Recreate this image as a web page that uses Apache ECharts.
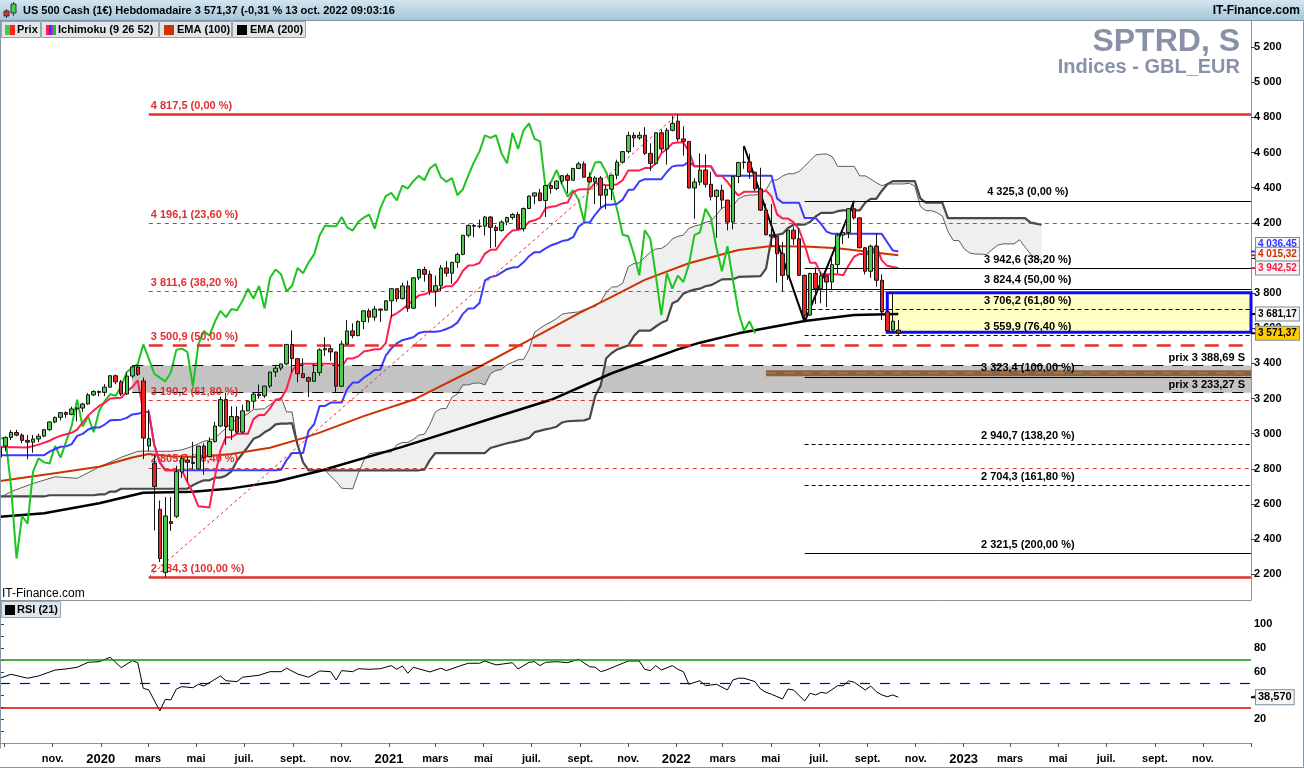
<!DOCTYPE html>
<html><head><meta charset="utf-8">
<script src="https://cdn.jsdelivr.net/npm/echarts@6/dist/echarts.min.js"></script>
<style>html,body{margin:0;padding:0;background:#fff;}#c{width:1304px;height:768px;}</style>
</head><body><div id="c"></div>
<script>
// ---------- DATA ----------
const startDate = '2019-08-26';   // Monday of first weekly candle
const weekCount = 228;            // weekly slots on the axis (incl. future)

const opens = [2866,2930,2979,3007,2992,2962,2952,2970,2986,3023,
3067,3093,3120,3110,3141,3146,3169,3221,3240,3235,
3265,3330,3295,3226,3328,3380,3300,2930,2833,2570,
2210,2500,2530,2782,2850,2837,2800,2930,2870,2955,
3044,3194,3020,3098,3009,3130,3185,3225,3216,3271,
3351,3373,3397,3508,3427,3341,3319,3298,3348,3477,
3484,3465,3270,3510,3585,3558,3638,3699,3663,3709,
3703,3756,3825,3768,3841,3714,3887,3934,3907,3811,
3842,3943,3913,3975,4020,4129,4185,4180,4181,4233,
4174,4156,4204,4230,4247,4166,4281,4352,4370,4327,
4412,4395,4437,4468,4442,4509,4535,4459,4433,4455,
4357,4391,4471,4545,4605,4697,4683,4698,4595,4538,
4712,4620,4726,4778,4677,4663,4398,4432,4500,4419,
4349,4385,4329,4204,4463,4543,4546,4488,4393,4272,
4132,4123,4024,3901,4158,4109,3901,3675,3912,3825,
3899,3863,3962,4130,4145,4280,4228,4058,3924,4067,
3873,3693,3590,3590];
const highs = [2940,2985,3021,3022,3002,2993,2993,3000,3027,3070,
3097,3123,3127,3154,3150,3176,3231,3248,3246,3282,
3332,3337,3306,3347,3385,3393,3320,3137,2880,2620,
2640,2641,2818,2879,2870,2954,2930,2945,2980,3068,
3211,3233,3156,3155,3165,3190,3238,3280,3272,3352,
3387,3399,3509,3588,3430,3429,3325,3397,3486,3550,
3501,3466,3529,3646,3628,3645,3701,3712,3726,3712,
3760,3827,3826,3859,3871,3889,3937,3950,3928,3900,
3960,3983,3978,4030,4130,4191,4194,4218,4238,4237,
4187,4214,4234,4255,4262,4287,4356,4372,4393,4415,
4430,4441,4469,4480,4513,4546,4549,4486,4465,4466,
4412,4475,4559,4608,4718,4714,4718,4744,4652,4713,
4731,4740,4808,4817.5,4749,4663,4453,4595,4590,4490,
4390,4416,4330,4465,4546,4637,4593,4490,4513,4308,
4307,4125,4090,4160,4177,4168,3905,3915,3946,3918,
3902,4012,4140,4167,4283,4325.3,4230,4062,4076,4140,
3906,3736,3807,3647];
const lows = [2853,2900,2964,2985,2946,2855,2892,2952,2980,3015,
3060,3076,3091,3105,3070,3124,3165,3215,3212,3214,
3263,3281,3214,3220,3315,3328,2855,2900,2450,2270,
2184.3,2447,2520,2749,2727,2797,2797,2766,2865,2950,
3038,2936,2965,3000,3001,3128,3142,3200,3204,3260,
3323,3359,3390,3349,3293,3317,3209,3297,3330,3441,
3413,3234,3265,3505,3543,3555,3595,3633,3643,3636,
3700,3663,3750,3765,3694,3710,3874,3865,3789,3723,
3812,3894,3853,3944,4015,4117,4118,4169,4128,4056,
4062,4150,4187,4218,4165,4151,4278,4306,4322,4233,
4365,4385,4421,4368,4440,4505,4457,4427,4306,4288,
4278,4329,4447,4537,4595,4630,4672,4585,4495,4532,
4600,4531,4720,4662,4582,4395,4223,4413,4401,4327,
4115,4279,4157,4162,4425,4507,4450,4381,4267,4128,
4062,3859,3810,3875,4074,3898,3636,3670,3738,3742,
3721,3818,3913,4079,4112,4218,4055,3906,3886,3837,
3647,3584,3572,3559.9];
const closes = [2926,2979,3007,2992,2962,2952,2970,2986,3023,3067,
3093,3120,3110,3141,3146,3169,3221,3240,3235,3265,
3330,3295,3226,3328,3380,3338,2975,2972,2700,2290,
2532,2489,2784,2860,2837,2831,2930,2864,2955,3044,
3194,3041,3098,3009,3130,3185,3225,3216,3271,3351,
3373,3397,3508,3427,3341,3319,3298,3348,3477,3484,
3465,3270,3510,3585,3558,3638,3699,3663,3709,3703,
3756,3825,3768,3841,3714,3887,3934,3907,3811,3842,
3943,3913,3975,4020,4129,4185,4180,4181,4233,4174,
4156,4204,4230,4247,4166,4281,4352,4370,4327,4412,
4395,4437,4468,4442,4509,4535,4459,4433,4455,4357,
4391,4471,4545,4605,4697,4683,4698,4595,4538,4712,
4620,4726,4766,4677,4663,4398,4432,4500,4419,4349,
4385,4329,4204,4463,4543,4546,4488,4393,4272,4132,
4123,4024,3901,4158,4109,3901,3675,3912,3825,3899,
3863,3962,4130,4145,4280,4228,4058,3924,4067,3873,
3693,3586,3640,3571.37];

// Ichimoku (9 26 52) lines: [weekIndex, value]
const tenkan = [[0,2925],[5,2922],[7,2938],[9,2960],[10,2976],[11,2988],[13,3005],[14,3023],[15,3064],[16,3103],[17,3132],[18,3158],[19,3176],[20,3200],[22,3204],[23,3241],[24,3265],[25,3303],[26,3124],[27,3124],[28,2936],[29,2837],[30,2792],[33,2792],[34,2725],[35,2664],[36,2587],[38,2580],[39,2757],[40,2905],[41,2980],[42,2980],[43,3000],[45,3000],[46,3083],[47,3107],[48,3107],[49,3144],[50,3193],[51,3199],[52,3255],[53,3358],[54,3394],[55,3398],[61,3398],[62,3380],[63,3428],[64,3428],[65,3440],[66,3468],[67,3473],[68,3480],[69,3480],[70,3515],[71,3669],[72,3685],[73,3708],[74,3733],[75,3761],[76,3787],[77,3793],[78,3807],[79,3807],[80,3827],[81,3839],[82,3839],[83,3872],[84,3927],[85,3957],[86,3959],[87,3971],[88,4025],[89,4046],[90,4046],[91,4091],[92,4129],[93,4156],[94,4159],[95,4172],[96,4206],[97,4214],[98,4228],[99,4283],[100,4291],[101,4296],[102,4310],[103,4316],[104,4373],[105,4390],[106,4391],[107,4391],[108,4428],[109,4419],[110,4414],[111,4414],[112,4419],[113,4443],[114,4498],[116,4498],[117,4511],[118,4511],[119,4537],[120,4596],[121,4620],[122,4652],[123,4657],[124,4657],[125,4607],[126,4521],[129,4521],[130,4467],[131,4467],[132,4432],[133,4389],[134,4355],[135,4376],[138,4376],[139,4383],[140,4350],[141,4248],[142,4224],[143,4224],[144,4202],[145,4162],[146,4075],[147,3972],[148,3972],[149,3907],[152,3907],[153,3902],[154,3958],[155,4008],[156,4023],[158,4023],[159,4072],[160,3986],[161,3955],[162,3949],[163,3942.52]];
const kijun = [[0,2878],[8,2878],[9,2898],[10,2913],[11,2926],[12,2928],[13,2941],[14,2988],[15,2999],[16,3024],[17,3035],[18,3035],[19,3052],[20,3076],[22,3080],[23,3090],[24,3110],[25,3113],[26,3124],[27,3124],[28,2936],[29,2837],[30,2792],[50,2792],[51,2795],[52,2850],[53,2890],[55,2890],[56,3018],[57,3054],[58,3158],[59,3158],[60,3177],[62,3177],[63,3255],[64,3291],[65,3291],[66,3319],[67,3339],[68,3363],[69,3364],[70,3444],[71,3485],[72,3514],[73,3532],[74,3540],[75,3549],[76,3573],[77,3580],[79,3580],[80,3585],[81,3596],[82,3609],[83,3632],[84,3682],[85,3713],[86,3714],[87,3744],[88,3872],[89,3891],[90,3898],[91,3917],[92,3936],[93,3946],[94,3949],[95,3975],[96,4010],[97,4033],[98,4033],[99,4055],[100,4072],[101,4082],[102,4096],[103,4102],[104,4118],[105,4179],[106,4201],[107,4201],[108,4247],[109,4285],[110,4303],[111,4303],[112,4308],[113,4332],[114,4387],[115,4390],[116,4435],[117,4448],[120,4448],[121,4489],[122,4521],[123,4526],[124,4526],[125,4548],[126,4521],[129,4521],[130,4467],[140,4467],[141,4339],[142,4314],[145,4314],[146,4227],[148,4227],[149,4193],[150,4150],[151,4137],[160,4137],[161,4089],[162,4043],[163,4036.45]];
const spanA = [[0,2636],[2,2671],[6,2717],[10,2755],[14,2746],[18,2811],[22,2866],[25,2900],[26,2901],[31,2900],[33,2908],[35,2929],[36,2944],[37,2957],[39,2973],[40,3005],[41,3031],[42,3063],[43,3083],[44,3096],[45,3114],[46,3138],[48,3142],[49,3165],[50,3187],[51,3208],[52,3124],[53,3124],[54,2936],[55,2837],[56,2792],[59,2792],[60,2758],[61,2728],[62,2690],[64,2686],[65,2774],[66,2848],[67,2886],[69,2896],[71,2896],[72,2937],[73,2950],[74,2950],[75,2968],[76,2992],[77,2997],[78,3052],[79,3124],[80,3142],[81,3144],[82,3208],[83,3226],[84,3278],[85,3278],[86,3288],[87,3288],[88,3278],[89,3341],[90,3360],[91,3365],[92,3393],[93,3406],[94,3421],[95,3422],[96,3480],[97,3577],[98,3600],[99,3620],[100,3636],[101,3655],[102,3680],[103,3686],[105,3693],[106,3706],[107,3717],[108,3724],[109,3752],[110,3804],[111,3835],[112,3836],[113,3857],[114,3950],[115,3968],[116,3972],[117,4004],[118,4032],[119,4051],[120,4054],[121,4073],[122,4108],[123,4123],[124,4130],[125,4169],[126,4181],[127,4189],[128,4203],[129,4209],[130,4245],[131,4284],[132,4296],[133,4296],[134,4337],[135,4352],[136,4358],[137,4358],[138,4363],[139,4387],[140,4442],[141,4444],[142,4466],[143,4479],[144,4479],[145,4492],[146,4522],[147,4554],[148,4586],[149,4591],[150,4591],[151,4577],[152,4521],[155,4521],[156,4467],[157,4467],[158,4449],[159,4428],[160,4411],[161,4421],[164,4421],[165,4425],[166,4408],[167,4293],[168,4269],[169,4269],[170,4258],[171,4238],[172,4151],[173,4099],[174,4099],[175,4050],[176,4028],[177,4022],[178,4022],[179,4019],[180,4047],[181,4072],[182,4080],[184,4080],[185,4104],[186,4061],[187,4022],[188,3996],[189,3990]];
const spanB = [[0,2643],[8,2643],[9,2650],[17,2650],[18,2655],[19,2655],[20,2671],[21,2671],[22,2687],[34,2687],[35,2707],[36,2722],[37,2735],[38,2735],[39,2750],[40,2750],[41,2761],[42,2786],[43,2846],[44,2886],[45,2926],[46,2971],[47,2984],[48,3008],[49,3025],[50,3053],[51,3057],[52,3057],[53,3060],[54,2936],[55,2837],[56,2792],[76,2792],[77,2795],[78,2850],[79,2890],[88,2890],[89,2919],[92,2946],[93,2952],[94,2959],[96,2976],[97,3009],[99,3025],[100,3031],[101,3040],[102,3064],[103,3071],[106,3076],[107,3087],[108,3215],[109,3275],[110,3429],[111,3459],[112,3480],[114,3502],[115,3554],[116,3587],[118,3587],[119,3610],[120,3631],[121,3644],[122,3742],[123,3757],[124,3797],[125,3810],[126,3820],[127,3825],[128,3839],[129,3845],[130,3861],[131,3878],[133,3879],[134,3892],[138,3897],[139,3939],[140,4115],[141,4131],[142,4138],[143,4170],[144,4189],[146,4190],[147,4204],[148,4236],[149,4256],[151,4256],[152,4266],[153,4271],[156,4271],[157,4315],[158,4336],[159,4336],[160,4381],[161,4419],[162,4437],[166,4437],[167,4339],[168,4314],[171,4314],[172,4227],[186,4227],[187,4201],[188,4195],[189,4189]];
const chikouShift = 26;

const ema100 = [[0,2731],[9,2771],[18,2812],[24,2865],[27,2885],[31,2872],[36,2868],[42,2885],[49,2920],[55,2975],[58,3006],[66,3100],[75,3193],[87,3381],[96,3533],[105,3685],[111,3779],[117,3875],[125,3970],[134,4045],[140,4068],[147,4064],[152,4055],[163,4015.32]];
const ema200 = [[0,2528],[8,2547],[18,2604],[26,2664],[35,2670],[42,2689],[50,2727],[58,2788],[73,2925],[82,3015],[91,3105],[100,3193],[111,3344],[123,3480],[127,3518],[134,3571],[146,3641],[155,3675],[163,3681.17]];

const rsi = [[0,54.6],[2,57.9],[5,54.6],[7,56.5],[10,61.5],[12,62.4],[14,63.8],[16,68],[18,68.5],[20,72.3],[22,63.5],[24,69.4],[25,67.7],[26,46.1],[27,44.7],[29,27],[30,36.8],[31,36.3],[32,45.5],[33,47.5],[35,46.6],[36,49.5],[37,48],[40,56.5],[41,52.5],[43,51.7],[44,55.4],[47,57.1],[49,60.1],[51,60.1],[52,63],[54,58.2],[56,55.4],[58,60.7],[60,60.1],[61,53.1],[62,61],[64,60.1],[65,62.6],[67,62.1],[69,62.6],[71,65.2],[72,62.1],[73,64.9],[74,58.8],[75,63.8],[78,59.9],[80,63],[81,61],[84,65.8],[85,67.2],[87,67.2],[88,69.1],[90,65.8],[93,67.7],[94,62.4],[96,68],[97,68.5],[98,65.2],[99,68],[101,68.5],[103,67.7],[105,70.6],[107,64.3],[108,63.8],[109,60.1],[110,61.5],[114,69.1],[116,69.1],[117,62.1],[118,61],[119,65.2],[120,61.5],[122,65.2],[123,62.1],[124,60.1],[125,49.5],[127,52.5],[128,48.3],[130,49.5],[132,44.7],[133,53.1],[134,54.6],[135,54.6],[137,51.7],[138,45.5],[139,42.7],[140,41.1],[142,37.1],[143,45.5],[144,44.7],[146,35.4],[147,41.9],[148,40.5],[149,42.7],[150,41.9],[152,48.3],[153,48.3],[154,52.3],[155,51.2],[157,44.7],[158,48],[159,43.3],[160,40.6],[161,39],[162,40.5],[163,38.57]];
const rsiLevels = [70, 50, 30];

// Fibonacci retracements
const redFibLevels = [4817.5, 4196.1, 3811.6, 3500.9, 3190.2, 2805.7, 2184.3];
const redFibPct = ['0,00','23,60','38,20','50,00','61,80','76,40','100,00'];
const redFibFrom = 27;
const redFibDiagonal = [[27, 2184.3], [123, 4817.5]];
const blackFibLevels = [4325.3, 3942.6, 3824.4, 3706.2, 3559.9, 3323.4, 2940.7, 2704.3, 2321.5];
const blackFibPct = ['0,00','38,20','50,00','61,80','76,40','100,00','138,20','161,80','200,00'];
const blackFibFrom = 146;
const swingLine = [[135, 4637], [146, 3636], [155, 4325.3]];

// Support zone and boxes
const supportLevels = [3388.69, 3233.27];
const supportFrom = 24;
const brownZone = [3361, 3327];
const brownMid = 3345;
const brownFrom = 139;
const targetBox = [3802, 3577];
const targetFrom = 161;

// Last values (right-axis tags)
const lastTagValues = [4036.45, 4015.32, 3942.52, 3681.17, 3571.37];
const rsiLast = 38.57;

const priceTicks = [2200,2400,2600,2800,3000,3200,3400,3600,3800,4000,4200,4400,4600,4800,5000,5200];
const rsiTickLabels = [20,40,60,80,100];
const rsiMinorTicks = [10,20,30,40,50,60,70,80,90,100,110];
const monthDates = ['2019-09-01','2019-11-01','2020-01-01','2020-03-01','2020-05-01','2020-07-01','2020-09-01','2020-11-01','2021-01-01','2021-03-01','2021-05-01','2021-07-01','2021-09-01','2021-11-01','2022-01-01','2022-03-01','2022-05-01','2022-07-01','2022-09-01','2022-11-01','2023-01-01','2023-03-01','2023-05-01','2023-07-01','2023-09-01','2023-11-01','2024-01-01'];
const monthNames = ['','nov.','2020','mars','mai','juil.','sept.','nov.','2021','mars','mai','juil.','sept.','nov.','2022','mars','mai','juil.','sept.','nov.','2023','mars','mai','juil.','sept.','nov.',''];

// ---------- STYLES ----------
const FONT = 'Liberation Sans, Arial, sans-serif';
const tagStyles = [
  {c: '#3535ff', bg: '#f6f6f6', dy: -7},
  {c: '#cc3300', bg: '#f6f6f6', dy: -1},
  {c: '#ff1744', bg: '#f6f6f6', dy: 0},
  {c: '#000000', bg: '#f6f6f6', dy: 0},
  {c: '#000000', bg: '#ffcc00', dy: 0}
];

// ---------- BUILD ----------
const DAY = 86400000;
const t0 = Date.parse(startDate);
const categories = [];
for (let k = 0; k < weekCount; k++) {
  const d = new Date(t0 + k * 7 * DAY);
  categories.push(d.toISOString().slice(0, 10));
}
const lastIdx = weekCount - 1;
const monthPos = monthDates.map(s => (Date.parse(s) - t0) / (7 * DAY));
const labelPos = monthPos.filter((p, k) => monthNames[k] !== '');

function fmtNum(v, d) {
  const s = v.toFixed(d);
  const parts = s.split('.');
  const a = parts[0].replace(/\B(?=(\d{3})+(?!\d))/g, ' ');
  return parts[1] ? a + ',' + parts[1] : a;
}

const candleData = opens.map((o, k) => [o, closes[k], lows[k], highs[k]]);
const chikou = closes.slice(chikouShift).map((v, k) => [k, v]);

const redStyle = ['solid', 'thin', 'thin', 'big', 'thin', 'thin', 'solid'];
const blackStyle = ['solid', 'solid', 'solid', 'dash', 'dash', 'solid', 'dash', 'dash', 'solid'];
function redLine(s) {
  if (s === 'solid') return {color: '#e53030', width: 2.5, type: 'solid'};
  if (s === 'big') return {color: '#e53030', width: 2.5, type: [14, 10]};
  return {color: '#e53030', width: 1, type: [4, 4]};
}
function blackLine(s) {
  if (s === 'solid') return {color: '#000', width: 1.2, type: 'solid'};
  return {color: '#000', width: 1, type: [4, 3]};
}

const fibMarkData = [];
redFibLevels.forEach((v, k) => {
  fibMarkData.push([
    {coord: [redFibFrom, v], lineStyle: redLine(redStyle[k]),
     label: {show: true, position: 'insideStartTop', distance: [2, 3], formatter: fmtNum(v, 1) + ' (' + redFibPct[k] + ' %)',
             color: '#e03030', fontWeight: 'bold', fontSize: 11, fontFamily: FONT}},
    {coord: [lastIdx, v]}
  ]);
});
blackFibLevels.forEach((v, k) => {
  fibMarkData.push([
    {coord: [blackFibFrom, v], lineStyle: blackLine(blackStyle[k]),
     label: {show: true, position: 'insideMiddleTop', distance: [0, 3], formatter: fmtNum(v, 1) + ' (' + blackFibPct[k] + ' %)',
             color: '#000', fontWeight: 'bold', fontSize: 11, fontFamily: FONT}},
    {coord: [lastIdx, v]}
  ]);
});
fibMarkData.push([
  {coord: redFibDiagonal[0], lineStyle: {color: '#e53030', width: 1, type: [3, 3]}, label: {show: false}},
  {coord: redFibDiagonal[1]}
]);

const zoneLines = supportLevels.map(v => [
  {coord: [supportFrom, v], lineStyle: {color: '#000', width: 1, type: [11, 9]},
   label: {show: true, position: 'insideEndTop', distance: [6, 2], formatter: 'prix ' + fmtNum(v, 2) + ' S',
           color: '#000', fontWeight: 'bold', fontSize: 11, fontFamily: FONT}},
  {coord: [lastIdx, v]}
]);
zoneLines.push([
  {coord: [brownFrom, brownMid], lineStyle: {color: '#c87028', width: 1.5, type: [10, 8]}, label: {show: false}},
  {coord: [lastIdx, brownMid]}
]);

const tagPoints = lastTagValues.map((v, k) => {
  const s = tagStyles[k];
  return {
    coord: [lastIdx, v],
    symbol: 'rect', symbolSize: [5, 2], symbolOffset: [2.5, 0],
    itemStyle: {color: s.c},
    label: {show: true, position: 'right', distance: 0, offset: [0, s.dy], formatter: fmtNum(v, 2),
            color: s.c, fontWeight: 'bold', fontSize: 10, fontFamily: FONT,
            backgroundColor: s.bg, borderColor: '#7a8c9c', borderWidth: 1, padding: [2, 2, 1, 2]}
  };
});

const lineBase = {type: 'line', showSymbol: false, symbol: 'none', xAxisIndex: 0, yAxisIndex: 0, animation: false, silent: true};

const chart = echarts.init(document.getElementById('c'), null, {renderer: 'canvas'});
const axisGrey = '#8796a3';

const option = {
  animation: false,
  backgroundColor: '#ffffff',
  textStyle: {fontFamily: FONT},
  grid: [
    {left: -1, right: 53, top: 21, bottom: 168, containLabel: false},
    {left: -1, right: 53, top: 600, bottom: 20, containLabel: false}
  ],
  xAxis: [
    {type: 'category', gridIndex: 0, data: categories, boundaryGap: false, show: false},
    {type: 'value', gridIndex: 1, min: 0, max: lastIdx, splitLine: {show: false},
     axisLine: {show: true, lineStyle: {color: axisGrey, width: 1}},
     axisTick: {show: true, customValues: monthPos, length: 4, lineStyle: {color: '#555'}},
     axisLabel: {show: true, customValues: labelPos, margin: 5, color: '#000', fontWeight: 'bold', fontSize: 11, fontFamily: FONT,
       formatter: function (val) {
         let best = 0, bd = 1e9;
         monthPos.forEach((p, k) => { const dd = Math.abs(p - val); if (dd < bd) { bd = dd; best = k; } });
         const n = monthNames[best];
         return /^\d{4}$/.test(n) ? '{y|' + n + '}' : '{m|' + n + '}';
       },
       rich: {y: {fontSize: 13, fontWeight: 'bold', color: '#000', fontFamily: FONT},
              m: {fontSize: 11, fontWeight: 'bold', color: '#000', fontFamily: FONT}}}}
  ],
  yAxis: [
    {type: 'value', gridIndex: 0, position: 'right', min: 2054, max: 5348, scale: true,
     splitLine: {show: false},
     axisLine: {show: true, lineStyle: {color: axisGrey, width: 1}},
     axisTick: {show: true, customValues: priceTicks, length: 4, lineStyle: {color: '#444'}},
     axisLabel: {show: true, customValues: priceTicks, margin: 3, color: '#000', fontWeight: 'bold', fontSize: 11, fontFamily: FONT,
       formatter: v => fmtNum(v, 0)}},
    {type: 'value', gridIndex: 1, position: 'right', min: -4.2, max: 120.5,
     splitLine: {show: false},
     axisLine: {show: true, lineStyle: {color: axisGrey, width: 1}},
     axisTick: {show: true, customValues: rsiMinorTicks, length: 4, lineStyle: {color: '#444'}},
     axisLabel: {show: true, customValues: rsiTickLabels, margin: 3, color: '#000', fontWeight: 'bold', fontSize: 11, fontFamily: FONT}}
  ],
  series: [
    {type: 'custom', name: 'cloud', xAxisIndex: 0, yAxisIndex: 0, z: 1, silent: true,
     data: [[0, 3000]],
     renderItem: function (params, api) {
       const pts = [];
       spanA.forEach(p => pts.push(api.coord(p)));
       for (let k = spanB.length - 1; k >= 0; k--) pts.push(api.coord(spanB[k]));
       return {type: 'polygon', shape: {points: pts}, style: {fill: '#efefef', stroke: null}};
     }},
    Object.assign({}, lineBase, {name: 'zones', z: 2, data: [],
      markArea: {silent: true, data: [
        [{coord: [supportFrom, supportLevels[0]], itemStyle: {color: '#c3c3c3'}}, {coord: [lastIdx, supportLevels[1]]}],
        [{coord: [brownFrom, brownZone[0]], itemStyle: {color: '#866343'}}, {coord: [lastIdx, brownZone[1]]}],
        [{coord: [targetFrom, targetBox[0]], itemStyle: {color: '#ffffc4', borderColor: '#0a0aff', borderWidth: 3}}, {coord: [lastIdx, targetBox[1]]}]
      ]},
      markLine: {silent: true, symbol: ['none', 'none'], animation: false, data: zoneLines}}),
    Object.assign({}, lineBase, {name: 'fibs', z: 2, data: [],
      markLine: {silent: true, symbol: ['none', 'none'], animation: false, data: fibMarkData}}),
    Object.assign({}, lineBase, {name: 'spanA', z: 3, data: spanA, lineStyle: {color: '#5c5c5c', width: 1}}),
    Object.assign({}, lineBase, {name: 'spanB', z: 3, data: spanB, lineStyle: {color: '#484848', width: 2.2}}),
    Object.assign({}, lineBase, {name: 'EMA (100)', z: 3, data: ema100, lineStyle: {color: '#cc3300', width: 2}}),
    Object.assign({}, lineBase, {name: 'EMA (200)', z: 3, data: ema200, lineStyle: {color: '#000000', width: 2.5}}),
    Object.assign({}, lineBase, {name: 'chikou', z: 3, data: chikou, lineStyle: {color: '#1ec41e', width: 2}}),
    Object.assign({}, lineBase, {name: 'kijun', z: 3, data: kijun, lineStyle: {color: '#3a3aff', width: 2}}),
    Object.assign({}, lineBase, {name: 'tenkan', z: 3, data: tenkan, lineStyle: {color: '#ff1f4f', width: 2}}),
    Object.assign({}, lineBase, {name: 'swing', z: 4, data: swingLine, lineStyle: {color: '#000', width: 2}}),
    {type: 'candlestick', name: 'Prix', xAxisIndex: 0, yAxisIndex: 0, z: 5, silent: true, barWidth: 4,
     data: candleData,
     itemStyle: {color: '#4ccb4c', color0: '#f02323', borderColor: '#151515', borderColor0: '#151515', borderWidth: 1}},
    Object.assign({}, lineBase, {name: 'tags', z: 10, data: [],
      markPoint: {silent: true, animation: false, data: tagPoints}}),
    {type: 'line', name: 'RSI (21)', xAxisIndex: 1, yAxisIndex: 1, showSymbol: false, symbol: 'none', silent: true, z: 3,
     data: rsi, lineStyle: {color: '#000', width: 1},
     markLine: {silent: true, symbol: ['none', 'none'], label: {show: false}, animation: false, data: [
       {yAxis: rsiLevels[0], lineStyle: {color: '#0a9a0a', width: 1.5, type: 'solid'}},
       {yAxis: rsiLevels[1], lineStyle: {color: '#0000d0', width: 1.2, type: [10, 10]}},
       {yAxis: rsiLevels[2], lineStyle: {color: '#e00000', width: 1.5, type: 'solid'}}
     ]},
     markPoint: {silent: true, animation: false, data: [{
       coord: [lastIdx, rsiLast], symbol: 'rect', symbolSize: [5, 2], symbolOffset: [2.5, 0], itemStyle: {color: '#000'},
       label: {show: true, position: 'right', distance: 0, formatter: rsiLast.toFixed(3).replace('.', ','),
               color: '#000', fontWeight: 'bold', fontSize: 11, fontFamily: FONT,
               backgroundColor: '#f6f6f6', borderColor: '#7a8c9c', borderWidth: 1, padding: [2, 2, 1, 2]}
     }]}}
  ],
  graphic: [
    // watermark
    {type: 'text', z: 0, zlevel: 0, x: 1240, y: 42, silent: true,
     style: {text: 'SPTRD, S', font: 'bold 32px ' + FONT, fill: '#8891a8', align: 'right', verticalAlign: 'middle'}},
    {type: 'text', z: 0, x: 1240, y: 67, silent: true,
     style: {text: 'Indices - GBL_EUR', font: 'bold 20px ' + FONT, fill: '#8891a8', align: 'right', verticalAlign: 'middle'}},
    // header bar
    {type: 'rect', z: 100, shape: {x: 0, y: 0, width: 1304, height: 20}, silent: true,
     style: {fill: new echarts.graphic.LinearGradient(0, 0, 0, 1, [{offset: 0, color: '#d2e5ef'}, {offset: 1, color: '#a5c7d9'}])}},
    {type: 'line', z: 100, shape: {x1: 0, y1: 20.5, x2: 1304, y2: 20.5}, style: {stroke: '#7f93a2', lineWidth: 1}, silent: true},
    {type: 'line', z: 101, shape: {x1: 6.5, y1: 9, x2: 6.5, y2: 18}, style: {stroke: '#333', lineWidth: 1}, silent: true},
    {type: 'rect', z: 102, shape: {x: 4, y: 11, width: 5, height: 5}, style: {fill: '#ee2a2a', stroke: '#333', lineWidth: 1}, silent: true},
    {type: 'line', z: 101, shape: {x1: 13.5, y1: 2, x2: 13.5, y2: 16}, style: {stroke: '#333', lineWidth: 1}, silent: true},
    {type: 'rect', z: 102, shape: {x: 11, y: 4, width: 5, height: 9}, style: {fill: '#4ccb4c', stroke: '#333', lineWidth: 1}, silent: true},
    {type: 'text', z: 102, x: 23, y: 11, silent: true,
     style: {text: 'US 500 Cash (1€) Hebdomadaire 3 571,37 (-0,31 % 13 oct. 2022 09:03:16', font: 'bold 11px ' + FONT, fill: '#000', align: 'left', verticalAlign: 'middle'}},
    {type: 'text', z: 102, x: 1300, y: 11, silent: true,
     style: {text: 'IT-Finance.com', font: 'bold 12px ' + FONT, fill: '#000', align: 'right', verticalAlign: 'middle'}},
    // legend boxes
    {type: 'rect', z: 100, shape: {x: 1.5, y: 21.5, width: 39, height: 16}, style: {fill: '#dfe5e9', stroke: '#9aa6ae', lineWidth: 1}, silent: true},
    {type: 'rect', z: 101, shape: {x: 5, y: 25, width: 5, height: 10}, style: {fill: '#44cc44'}, silent: true},
    {type: 'rect', z: 101, shape: {x: 10, y: 25, width: 5, height: 10}, style: {fill: '#ff2020'}, silent: true},
    {type: 'text', z: 101, x: 17, y: 30, silent: true, style: {text: 'Prix', font: 'bold 11px ' + FONT, fill: '#000', verticalAlign: 'middle'}},
    {type: 'rect', z: 100, shape: {x: 41.5, y: 21.5, width: 117, height: 16}, style: {fill: '#dfe5e9', stroke: '#9aa6ae', lineWidth: 1}, silent: true},
    {type: 'rect', z: 101, shape: {x: 46, y: 25, width: 3, height: 10}, style: {fill: '#ff2050'}, silent: true},
    {type: 'rect', z: 101, shape: {x: 49, y: 25, width: 2, height: 10}, style: {fill: '#3030ff'}, silent: true},
    {type: 'rect', z: 101, shape: {x: 51, y: 25, width: 2, height: 10}, style: {fill: '#a030c0'}, silent: true},
    {type: 'rect', z: 101, shape: {x: 53, y: 25, width: 3, height: 10}, style: {fill: '#22bb22'}, silent: true},
    {type: 'text', z: 101, x: 58, y: 30, silent: true, style: {text: 'Ichimoku (9 26 52)', font: 'bold 11px ' + FONT, fill: '#000', verticalAlign: 'middle'}},
    {type: 'rect', z: 100, shape: {x: 159.5, y: 21.5, width: 72, height: 16}, style: {fill: '#dfe5e9', stroke: '#9aa6ae', lineWidth: 1}, silent: true},
    {type: 'rect', z: 101, shape: {x: 164, y: 25, width: 10, height: 10}, style: {fill: '#cc3300'}, silent: true},
    {type: 'text', z: 101, x: 177, y: 30, silent: true, style: {text: 'EMA (100)', font: 'bold 11px ' + FONT, fill: '#000', verticalAlign: 'middle'}},
    {type: 'rect', z: 100, shape: {x: 232.5, y: 21.5, width: 73, height: 16}, style: {fill: '#dfe5e9', stroke: '#9aa6ae', lineWidth: 1}, silent: true},
    {type: 'rect', z: 101, shape: {x: 237, y: 25, width: 10, height: 10}, style: {fill: '#000'}, silent: true},
    {type: 'text', z: 101, x: 250, y: 30, silent: true, style: {text: 'EMA (200)', font: 'bold 11px ' + FONT, fill: '#000', verticalAlign: 'middle'}},
    // bottom-left source
    {type: 'text', z: 50, x: 2, y: 594, silent: true, style: {text: 'IT-Finance.com', font: '12px ' + FONT, fill: '#000', verticalAlign: 'middle'}},
    // RSI label box
    {type: 'rect', z: 100, shape: {x: 1.5, y: 601.5, width: 59, height: 16}, style: {fill: '#dfe5e9', stroke: '#9aa6ae', lineWidth: 1}, silent: true},
    {type: 'rect', z: 101, shape: {x: 5, y: 605, width: 10, height: 10}, style: {fill: '#000'}, silent: true},
    {type: 'text', z: 101, x: 17, y: 610, silent: true, style: {text: 'RSI (21)', font: 'bold 11px ' + FONT, fill: '#000', verticalAlign: 'middle'}},
    // frame lines
    {type: 'line', z: 60, shape: {x1: 0.5, y1: 20, x2: 0.5, y2: 748}, style: {stroke: axisGrey, lineWidth: 1}, silent: true},
    {type: 'line', z: 60, shape: {x1: 0, y1: 600.5, x2: 1251, y2: 600.5}, style: {stroke: axisGrey, lineWidth: 1}, silent: true},
    {type: 'line', z: 60, shape: {x1: 1303.5, y1: 20, x2: 1303.5, y2: 768}, style: {stroke: axisGrey, lineWidth: 1}, silent: true},
    {type: 'line', z: 60, shape: {x1: 0, y1: 767.5, x2: 1304, y2: 767.5}, style: {stroke: axisGrey, lineWidth: 1}, silent: true}
  ]
};
chart.setOption(option);
</script>
</body></html>
